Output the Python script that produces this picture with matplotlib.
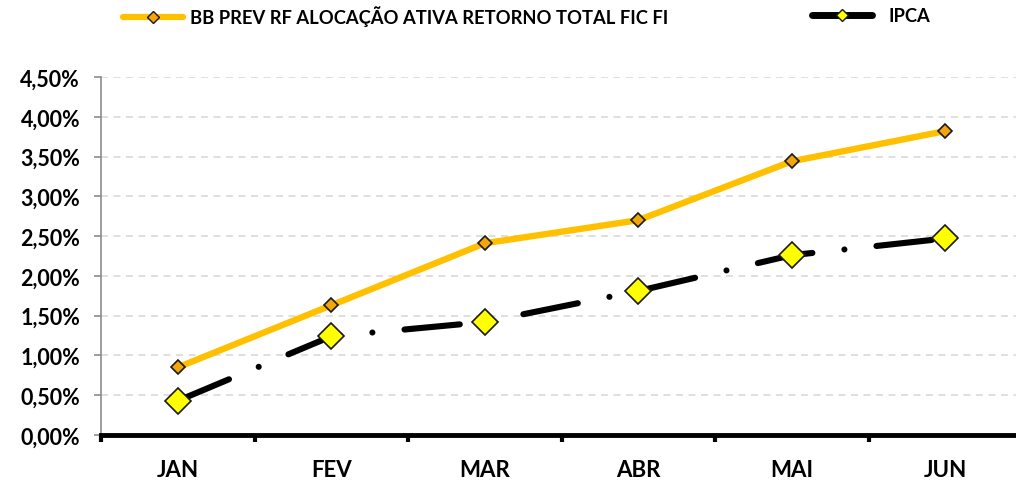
import matplotlib.pyplot as plt
from matplotlib.ticker import FuncFormatter, FixedLocator
from matplotlib.lines import Line2D

months = ['JAN', 'FEV', 'MAR', 'ABR', 'MAI', 'JUN']
fundo = [0.85, 1.63, 2.41, 2.70, 3.44, 3.82]
ipca = [0.43, 1.24, 1.42, 1.81, 2.26, 2.47]
fundo_label = 'BB PREV RF ALOCAÇÃO ATIVA RETORNO TOTAL FIC FI'
ipca_label = 'IPCA'

plt.rcParams['font.family'] = ['Lato', 'DejaVu Sans']
plt.rcParams['font.weight'] = 'bold'
plt.rcParams['lines.scale_dashes'] = False

fig = plt.figure(figsize=(10.16, 4.81), dpi=100)
# right edge of plot area runs past the image, like the reference
ax = fig.add_axes([101 / 1016, 45 / 481, 921 / 1016, 358 / 481])

x = list(range(len(months)))

ax.plot(x, fundo, color='#FFC000', lw=4.6, zorder=3,
        marker='D', markersize=7.5, markerfacecolor='#F2A60C',
        markeredgecolor='#1a1a1a', markeredgewidth=1.2)
ax.plot(x, ipca, color='black', lw=4.4, zorder=3,
        linestyle=(0, (40, 23.2, 0.01, 23.2)), dash_capstyle='round',
        marker='D', markersize=13, markerfacecolor='#FFFF00',
        markeredgecolor='#1a1a1a', markeredgewidth=1.2)

ax.set_xlim(-0.5, 5.5)
ax.set_ylim(0, 4.5)
ax.yaxis.set_major_locator(FixedLocator([i * 0.5 for i in range(10)]))
ax.yaxis.set_major_formatter(FuncFormatter(lambda v, p: f'{v:.2f}%'.replace('.', ',')))
ax.set_xticks(x)
ax.set_xticklabels(months)
ax.xaxis.set_minor_locator(FixedLocator([i - 0.5 for i in range(7)]))

ax.grid(axis='y', color='#d9d9d9', linestyle=(0, (5, 4)), lw=1.2, zorder=0)
for s in ['top', 'right']:
    ax.spines[s].set_visible(False)
ax.spines['left'].set_color('#8c8c8c')
ax.spines['left'].set_linewidth(1.2)
ax.spines['bottom'].set_color('black')
ax.spines['bottom'].set_linewidth(3.5)
ax.spines['bottom'].set_zorder(4)

ax.tick_params(axis='y', colors='#8c8c8c', length=5, width=1.2, labelcolor='black',
               labelsize=15.5, pad=10)
ax.tick_params(axis='x', which='major', length=0, labelsize=16, pad=17)
ax.tick_params(axis='x', which='minor', length=5, width=3, color='black')
for lbl in ax.get_xticklabels() + ax.get_yticklabels():
    lbl.set_fontweight('bold')

h1 = Line2D([], [], color='#FFC000', lw=4.5, marker='D', markersize=6,
            markerfacecolor='#F2A60C', markeredgecolor='#1a1a1a', solid_capstyle='round')
h2 = Line2D([], [], color='black', lw=5, marker='D', markersize=6,
            markerfacecolor='#FFFF00', markeredgecolor='#1a1a1a', solid_capstyle='round')
fig.legend([h1], [fundo_label], loc='center left', bbox_to_anchor=(106 / 1016, 1 - 17 / 481),
           frameon=False, handlelength=3.3, handletextpad=0.4,
           prop={'weight': 'bold', 'size': 13.2})
fig.legend([h2], [ipca_label], loc='center left', bbox_to_anchor=(795 / 1016, 1 - 17 / 481),
           frameon=False, handlelength=3.3, handletextpad=0.9,
           prop={'weight': 'bold', 'size': 13.2})

fig.savefig('out.png', dpi=100)
